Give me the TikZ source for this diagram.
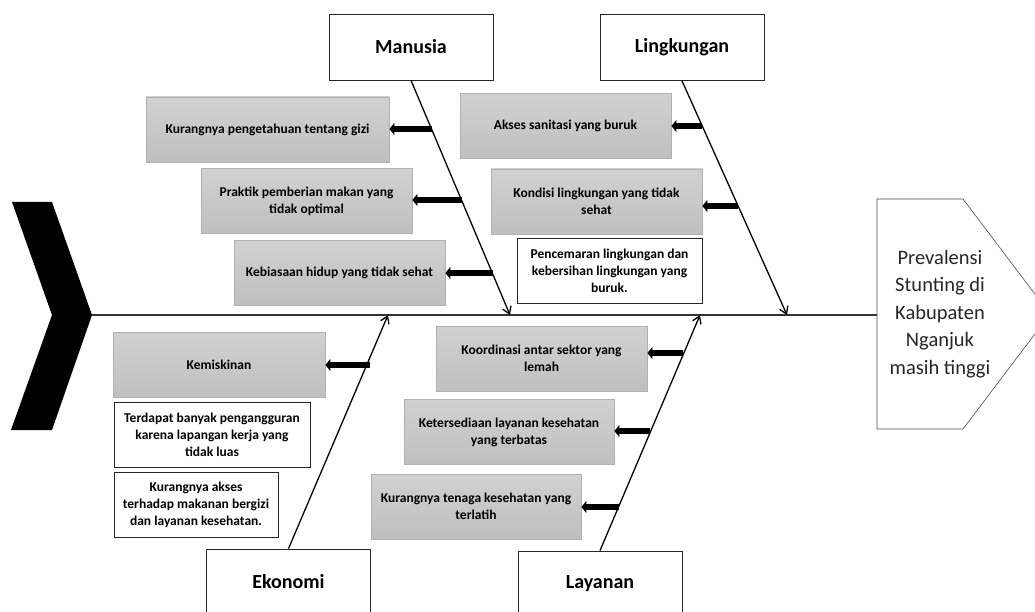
\documentclass[tikz,border=0pt]{standalone}
\usepackage{fontspec}
\setmainfont{Carlito}
\usetikzlibrary{arrows.meta}

\begin{document}
\begin{tikzpicture}[x=1pt,y=-1pt,
  cat/.style={draw=black!85,fill=white,line width=0.8pt,minimum width=164pt,minimum height=66pt,font=\fontsize{20}{24}\selectfont\bfseries},
  cause/.style={draw=gray!62,top color=gray!36,bottom color=gray!50,line width=0.8pt,minimum height=65pt,align=center,inner sep=2pt,font=\fontsize{13.5}{17}\selectfont\bfseries},
  note/.style={draw=black!85,fill=white,line width=0.8pt,minimum height=65pt,align=center,inner sep=2pt,font=\fontsize{13.5}{17}\selectfont\bfseries},
  bone/.style={line width=1.3pt,-{Straight Barb[length=7pt,width=9pt]}},
  blk/.style={line width=6pt,-{Triangle[length=5pt,width=12pt]}}]
\path[use as bounding box,clip] (0,0) rectangle (1035,612);
\fill (12,202) -- (52,202) -- (92,315) -- (52,430) -- (11,430) -- (52,315) -- cycle;
\coordinate (tail) at (92,315);
\coordinate (hw) at (877,315);
\draw[line width=1.8pt,black!80] (tail) -- (hw);
\draw[black!70,line width=0.6pt] (877,199) -- (963,199) -- (1050,314) -- (963,429) -- (877,429) -- cycle;
\node[font=\fontsize{20.5}{27.5}\selectfont,align=center,text=black!85] (hd) at (940,314) {Prevalensi\\Stunting di\\Kabupaten\\Nganjuk\\masih tinggi};
\node[cat] (man) at (411,47) {Manusia};
\node[cat] (lin) at (682,47.5) {Lingkungan};
\node[cat] (eko) at (288.5,582) {Ekonomi};
\node[cat] (lay) at (600,584) {Layanan};
\coordinate (m0) at (510,315);
\coordinate (l0) at (787,315);
\coordinate (e0) at (388,315);
\coordinate (y0) at (700,315);
\draw[bone] (man.south) -- (m0);
\draw[bone] (lin.south) -- (l0);
\draw[bone] (eko.north) -- (e0);
\draw[bone] (lay.north) -- (y0);
\node[cause,minimum width=243pt] (m1) at (267.5,129.5) {Kurangnya pengetahuan tentang gizi};
\node[cause,minimum width=211pt] (m2) at (306.5,201) {Praktik pemberian makan yang\\tidak optimal};
\node[cause,minimum width=211pt] (m3) at (339.5,273) {Kebiasaan hidup yang tidak sehat};
\node[cause,minimum width=211pt] (l1) at (565.5,126) {Akses sanitasi yang buruk};
\node[cause,minimum width=211pt] (l2) at (596.5,201.5) {Kondisi lingkungan yang tidak\\sehat};
\node[note,minimum width=185pt] (l3) at (609.5,271) {Pencemaran lingkungan dan\\kebersihan lingkungan yang\\buruk.};
\node[cause,minimum width=212pt] (e1) at (219,365) {Kemiskinan};
\node[note,minimum width=196pt] (e2) at (212,434.5) {Terdapat banyak pengangguran\\karena lapangan kerja yang\\tidak luas};
\node[note,minimum width=164pt] (e3) at (196,505) {Kurangnya akses\\terhadap makanan bergizi\\dan layanan kesehatan.};
\node[cause,minimum width=211pt] (y1) at (541.5,358.5) {Koordinasi antar sektor yang\\lemah};
\node[cause,minimum width=210pt] (y2) at (509,432) {Ketersediaan layanan kesehatan\\yang terbatas};
\node[cause,minimum width=210pt] (y3) at (476,506.5) {Kurangnya tenaga kesehatan yang\\terlatih};
\coordinate (am1) at (432,129);
\coordinate (am2) at (462,200);
\coordinate (am3) at (493,273);
\coordinate (al1) at (702,126);
\coordinate (al2) at (738,206);
\coordinate (ae1) at (370,365);
\coordinate (ay1) at (683,353);
\coordinate (ay2) at (650,431);
\coordinate (ay3) at (619,507);
\draw[blk] (am1) -- (am1 -| m1.east);
\draw[blk] (am2) -- (am2 -| m2.east);
\draw[blk] (am3) -- (am3 -| m3.east);
\draw[blk] (al1) -- (al1 -| l1.east);
\draw[blk] (al2) -- (al2 -| l2.east);
\draw[blk] (ae1) -- (ae1 -| e1.east);
\draw[blk] (ay1) -- (ay1 -| y1.east);
\draw[blk] (ay2) -- (ay2 -| y2.east);
\draw[blk] (ay3) -- (ay3 -| y3.east);
\end{tikzpicture}
\end{document}
